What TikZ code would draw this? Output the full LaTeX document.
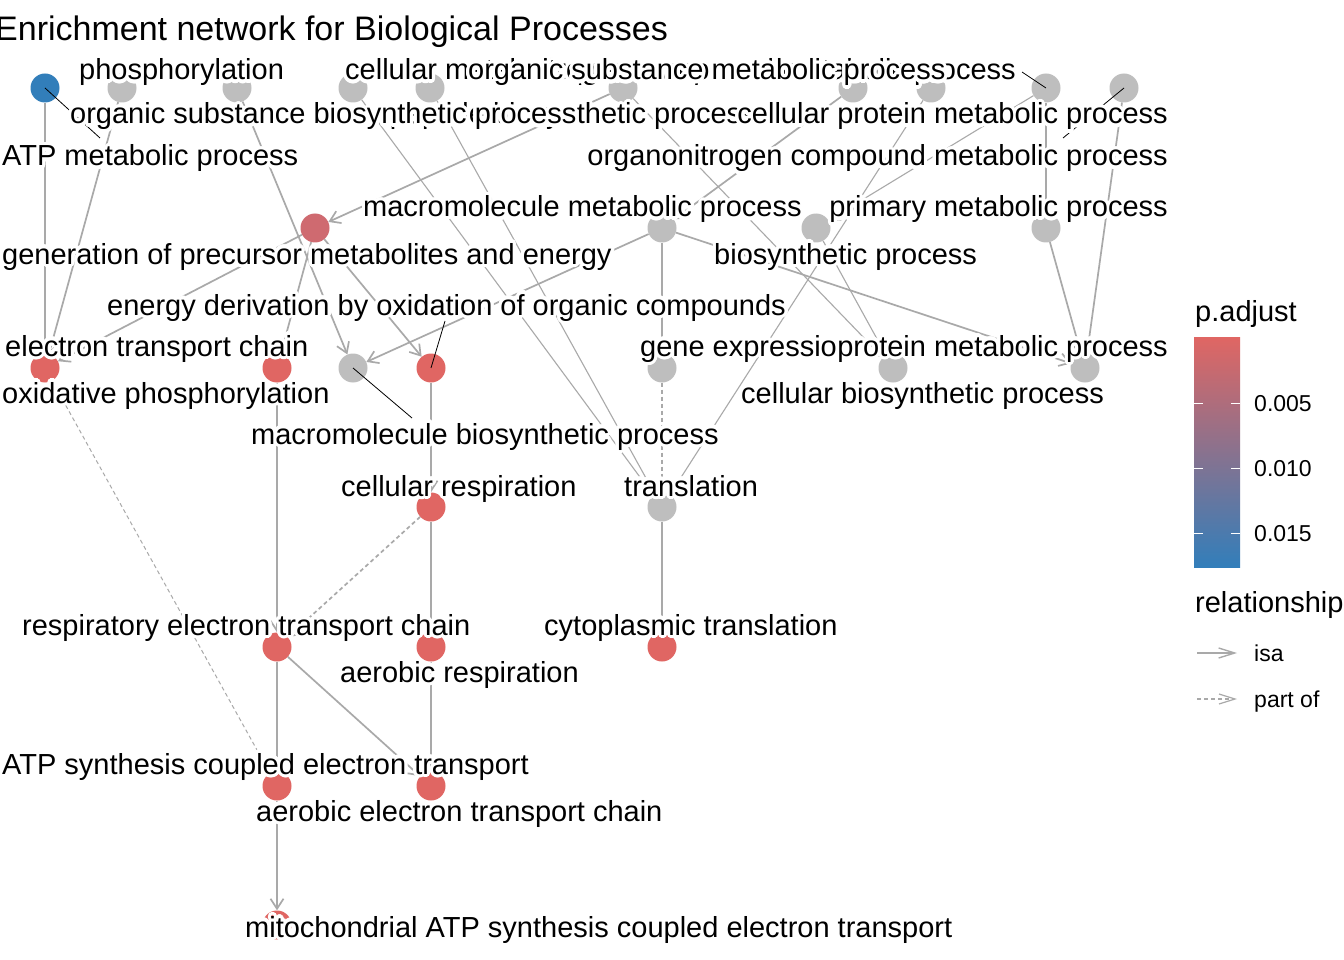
\documentclass[tikz,border=0pt]{standalone}
\usepackage{fontspec}
\setmainfont{Liberation Sans}
\usepackage[copies]{contour}
\contourlength{3.2pt}
\contournumber{24}
\usetikzlibrary{arrows.meta}
\definecolor{pred}{HTML}{E06663}
\definecolor{pblue}{HTML}{327EBA}
\definecolor{pmid}{HTML}{967496}
\definecolor{gpcol}{HTML}{CF6A70}
\definecolor{nodegray}{HTML}{BEBEBE}
\definecolor{edgegray}{HTML}{A9A9A9}
\newcommand{\halo}[1]{\contour{white}{#1}}

\begin{document}
\begin{tikzpicture}[x=1pt,y=-1pt,
        term/.style={circle,inner sep=0pt,minimum size=29pt},
        isa/.style={draw=edgegray,line width=1.7pt,-{Straight Barb[length=10pt,width=13pt]}},
        thinisa/.style={isa,line width=1.1pt},
        partof/.style={isa,dash pattern=on 4pt off 3pt},
        lbl/.style={inner sep=0pt,anchor=base west,font=\fontsize{29}{34}\selectfont},
        rlbl/.style={lbl,anchor=base east},
        keytxt/.style={inner sep=0pt,anchor=base west,font=\fontsize{23}{28}\selectfont},
        leader/.style={draw=black,line width=0.8pt}]
        \useasboundingbox[fill=white] (0,0) rectangle (1344,960);
        \node[inner sep=0pt,anchor=base west,font=\fontsize{34}{40}\selectfont] (title) at (-5,41) {Enrichment network for Biological Processes};

        \node[term,fill=pblue] (atp) at (45,88) {}; \node[term,fill=nodegray] (phos) at (122,88) {};
        \node[term,fill=nodegray] (ta) at (237,88) {}; \node[term,fill=nodegray] (tb) at (353,88) {};
        \node[term,fill=nodegray] (tc) at (430,88) {}; \node[term,fill=nodegray] (td) at (623,88) {};
        \node[term,fill=nodegray] (te) at (853,88) {}; \node[term,fill=nodegray] (tf) at (931,88) {};
        \node[term,fill=nodegray] (ncm) at (1046,88) {}; \node[term,fill=nodegray] (onit) at (1124,88) {};
        \node[term,fill=gpcol] (gpme) at (315,228) {}; \node[term,fill=nodegray] (mmet) at (662,228) {};
        \node[term,fill=nodegray] (bsyn) at (816,228) {}; \node[term,fill=nodegray] (prim) at (1046,228) {};
        \node[term,fill=pred] (oxph) at (45,368) {}; \node[term,fill=pred] (etc) at (277,368) {};
        \node[term,fill=nodegray] (mbio) at (353,368) {}; \node[term,fill=pred] (edoc) at (431,368) {};
        \node[term,fill=nodegray] (gexp) at (662,368) {}; \node[term,fill=nodegray] (cbio) at (893,368) {};
        \node[term,fill=nodegray] (pmet) at (1085,368) {};
        \node[term,fill=pred] (cresp) at (431,507) {}; \node[term,fill=nodegray] (transl) at (662,507) {};
        \node[term,fill=pred] (retc) at (277,647) {}; \node[term,fill=pred] (aresp) at (431,647) {};
        \node[term,fill=pred] (ctrans) at (662,647) {};
        \node[term,fill=pred] (atpsc) at (277,786) {}; \node[term,fill=pred] (aetc) at (431,786) {};
        \node[term,fill=pred] (mito) at (277,925) {};

        \draw[isa] (atp) -- (oxph); \draw[isa] (phos) -- (oxph); \draw[isa] (gpme) -- (oxph);
        \draw[isa] (ta) -- (mbio); \draw[isa] (td) -- (gpme); \draw[isa] (gpme) -- (etc); \draw[isa] (gpme) -- (edoc);
        \draw[isa] (mmet) -- (mbio); \draw[isa] (mmet) -- (gexp); \draw[isa] (mmet) -- (pmet); \draw[isa] (te) -- (mmet);
        \draw[thinisa] (tb) -- (transl); \draw[thinisa] (tc) -- (transl); \draw[thinisa] (tf) -- (transl);
        \draw[partof] (gexp) -- (transl);
        \draw[thinisa] (td) -- (cbio); \draw[thinisa] (bsyn) -- (cbio); \draw[thinisa] (ncm) -- (bsyn);
        \draw[isa] (ncm) -- (prim); \draw[isa] (prim) -- (pmet); \draw[isa] (onit) -- (pmet);
        \draw[isa] (etc) -- (retc); \draw[isa] (edoc) -- (cresp); \draw[partof] (cresp) -- (retc);
        \draw[isa] (cresp) -- (aresp); \draw[isa] (transl) -- (ctrans);
        \draw[isa] (retc) -- (atpsc); \draw[isa] (retc) -- (aetc); \draw[isa] (aresp) -- (aetc);
        \draw[partof,line width=1pt] (oxph) -- (atpsc); \draw[isa] (atpsc) -- (mito);

        \coordinate (l-atp) at (100,138); \coordinate (l-ncm) at (1022,72); \coordinate (l-onit) at (1063,138);
        \coordinate (l-mbio) at (412,418); \coordinate (l-edoc) at (445,321);
        \draw[leader] (atp.center) -- (l-atp); \draw[leader] (ncm.center) -- (l-ncm); \draw[leader] (onit.center) -- (l-onit);
        \draw[leader] (mbio.center) -- (l-mbio); \draw[leader] (edoc.center) -- (l-edoc);

        \node[lbl] (t-cmet) at (345,80) {\halo{cellular metabolic process}};
        \node[rlbl] (t-ncm) at (1016,80) {\halo{nitrogen compound metabolic process}};
        \node[lbl] (t-osm) at (468,80) {\halo{organic substance metabolic process}};
        \node[lbl] (t-phos) at (79,80) {\halo{phosphorylation}};
        \node[rlbl] (t-pbp) at (756,124) {\halo{peptide biosynthetic process}};
        \node[lbl] (t-osb) at (70,124) {\halo{organic substance biosynthetic process}};
        \node[rlbl] (t-cpm) at (1168,124) {\halo{cellular protein metabolic process}};
        \node[lbl] (t-atp) at (2,166) {\halo{ATP metabolic process}};
        \node[rlbl] (t-onit) at (1168,166) {\halo{organonitrogen compound metabolic process}};
        \node[lbl] (t-mmet) at (363,217) {\halo{macromolecule metabolic process}};
        \node[rlbl] (t-prim) at (1168,217) {\halo{primary metabolic process}};
        \node[lbl] (t-gpme) at (2,264) {\halo{generation of precursor metabolites and energy}};
        \node[lbl] (t-bsyn) at (714,264) {\halo{biosynthetic process}};
        \node[lbl] (t-edoc) at (107,315) {\halo{energy derivation by oxidation of organic compounds}};
        \node[lbl] (t-etc) at (5,356) {\halo{electron transport chain}};
        \node[lbl] (t-gexp) at (640,356) {\halo{gene expression}};
        \node[rlbl] (t-pmet) at (1168,356) {\halo{protein metabolic process}};
        \node[lbl] (t-oxph) at (2,403) {\halo{oxidative phosphorylation}};
        \node[lbl] (t-cbio) at (741,403) {\halo{cellular biosynthetic process}};
        \node[lbl] (t-mbio) at (251,444) {\halo{macromolecule biosynthetic process}};
        \node[lbl] (t-cresp) at (341,496) {\halo{cellular respiration}};
        \node[lbl] (t-transl) at (624,496) {\halo{translation}};
        \node[lbl] (t-retc) at (22,635) {\halo{respiratory electron transport chain}};
        \node[lbl] (t-ctrans) at (544,635) {\halo{cytoplasmic translation}};
        \node[lbl] (t-aresp) at (340,682) {\halo{aerobic respiration}};
        \node[lbl] (t-atpsc) at (2,774) {\halo{ATP synthesis coupled electron transport}};
        \node[lbl] (t-aetc) at (256,821) {\halo{aerobic electron transport chain}};
        \node[lbl] (t-mito) at (245,937) {\halo{mitochondrial ATP synthesis coupled electron transport}};

        \node[lbl] (padj) at (1195,321) {p.adjust};
        \shade[top color=pred,middle color=pmid,bottom color=pblue] (1194,337) rectangle (1240,567);
        \draw[white,line width=1pt] (1194,403) -- (1203,403) (1231,403) -- (1240,403) (1194,468) -- (1203,468) (1231,468) -- (1240,468) (1194,533) -- (1203,533) (1231,533) -- (1240,533);
        \node[keytxt] (k005) at (1254,411) {0.005}; \node[keytxt] (k010) at (1254,476) {0.010}; \node[keytxt] (k015) at (1254,541) {0.015};
        \node[lbl] (rel) at (1195,612) {relationship};
        \coordinate (ka) at (1197,653); \coordinate (kb) at (1237,653); \coordinate (kc) at (1197,699); \coordinate (kd) at (1237,699);
        \draw[isa,line width=1.4pt,-{Straight Barb[length=16pt,width=10pt]}] (ka) -- (kb); \draw[partof,line width=1.2pt,-{Straight Barb[length=16pt,width=10pt]}] (kc) -- (kd);
        \node[keytxt] (kisa) at (1254,661) {isa}; \node[keytxt] (kpart) at (1254,707) {part of};
\end{tikzpicture}
\end{document}
